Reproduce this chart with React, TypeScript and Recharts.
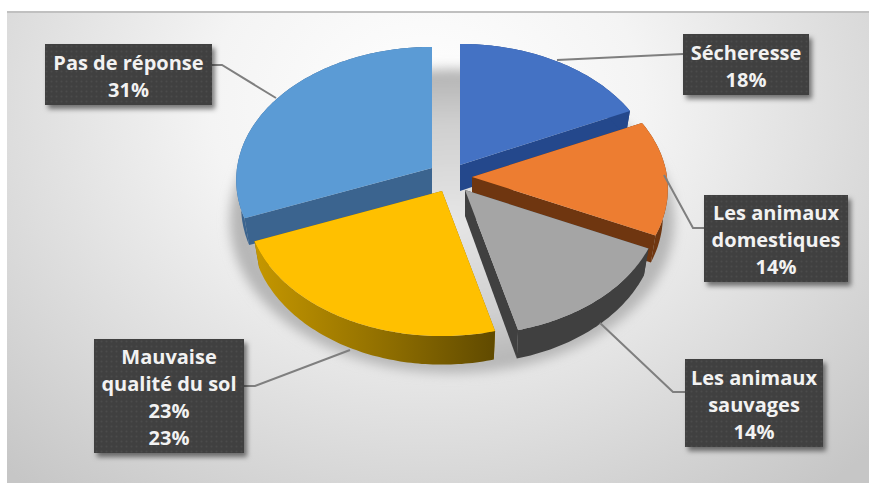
import React from 'react';
import { PieChart, Pie } from 'recharts';

// Drawn back to front, so the list starts at the rear left slice
const categories = ['Pas de réponse', 'Sécheresse', 'Les animaux domestiques', 'Les animaux sauvages', 'Mauvaise qualité du sol'];
const shares = [31, 18, 14, 14, 23];
const captions = [
  ['Pas de réponse'],
  ['Sécheresse'],
  ['Les animaux', 'domestiques'],
  ['Les animaux', 'sauvages'],
  ['Mauvaise', 'qualité du sol', '23%'],
];

const topColors = ['#5b9bd5', '#4472c4', '#ed7d31', '#a5a5a5', '#ffc000'];
const wallColors = ['#3b648f', '#24488c', '#6f3610', '#404040', 'url(#goldWall)'];

// How far each slice is pulled out of the pie
const explode = [[-19, -10], [9, -13], [21, -1], [14, 12], [-9, 13]];

// Callout boxes: x, y, width, height
const boxes = [
  [45, 44, 167, 61],
  [683, 34, 126, 61],
  [704, 195, 144, 87],
  [685, 359, 138, 88],
  [94, 339, 150, 114],
];
const leaders = [
  '212,65 222,65 276,98',
  '683,54 557,60',
  '704,228 693,228 664,175',
  '685,392 673,392 600,323',
  '244,386 255,386 350,350',
];

const WIDTH = 869;
const HEIGHT = 484;
const TILT = 132 / 195;
const PERSPECTIVE = 0.09;
const THICKNESS = 26;
const BASE_NARROWING = 0.975;

const tableData = categories.map((name, i) => ({ name, value: shares[i], fill: topColors[i] }));

// Angle in degrees (chart convention) onto the tilted disc, with a little foreshortening
const project = (cx: number, cy: number, r: number, deg: number, drop = 0) => {
  const rad = (deg * Math.PI) / 180;
  const u = Math.cos(rad);
  const v = -Math.sin(rad);
  const s = 1 / (1 - PERSPECTIVE * v);
  const spread = drop ? BASE_NARROWING : 1;
  return [cx + r * u * s * spread, cy + r * TILT * v * s + drop * s];
};

const toPath = (pts: number[][]) =>
  'M' + pts.map((p) => `${p[0].toFixed(1)},${p[1].toFixed(1)}`).join('L') + 'Z';

const Slice = (props: any) => {
  const { cx, cy, outerRadius, startAngle, endAngle, name } = props;
  const i = categories.indexOf(name);
  const ox = cx + explode[i][0];
  const oy = cy + explode[i][1];
  const steps = Math.max(2, Math.ceil(Math.abs(endAngle - startAngle)));
  const arc: number[] = [];
  for (let k = 0; k <= steps; k++) arc.push(startAngle + ((endAngle - startAngle) * k) / steps);

  const top = arc.map((a) => project(ox, oy, outerRadius, a));
  const bottom = arc.map((a) => project(ox, oy, outerRadius, a, THICKNESS));
  const apex = [ox, oy];
  const apexLow = [ox, oy + THICKNESS];
  const wall = wallColors[i];
  const cutWall = wall.startsWith('url') ? '#8a6a00' : wall;

  return (
    <g>
      <path d={toPath([apex, top[0], bottom[0], apexLow])} fill={cutWall} />
      <path d={toPath([apex, top[steps], bottom[steps], apexLow])} fill={cutWall} />
      <path d={toPath([...top, ...bottom.slice().reverse()])} fill={wall} />
      <path d={toPath([apex, ...top])} fill={topColors[i]} />
    </g>
  );
};

const Callout = (props: any) => {
  const i = props.index;
  const [x, y, w, h] = boxes[i];
  const lines = [...captions[i], `${shares[i]}%`];
  const lineHeight = 27;
  const firstLine = y + h / 2 - ((lines.length - 1) * lineHeight) / 2 + 1;
  return (
    <g>
      <rect x={x} y={y} width={w} height={h} fill="#404040" filter="url(#boxShadow)" />
      <rect x={x} y={y} width={w} height={h} fill="url(#boxDots)" />
      {lines.map((line, k) => (
        <text
          key={k}
          x={x + w / 2}
          y={firstLine + k * lineHeight}
          textAnchor="middle"
          dominantBaseline="central"
          fontFamily="'Open Sans', sans-serif"
          fontWeight={700}
          fontSize={20}
          fill="#f2f2f2"
        >
          {line}
        </text>
      ))}
    </g>
  );
};

const Leader = (props: any) => (
  <polyline points={leaders[props.index]} fill="none" stroke="#7f7f7f" strokeWidth={2} />
);

export default function App() {
  const start = 90 + (shares[0] / 100) * 360;
  return (
    <div
      style={{
        position: 'absolute',
        left: 0,
        top: 0,
        width: WIDTH,
        height: HEIGHT,
        background: '#fff',
        overflow: 'hidden',
      }}
    >
      <div
        style={{
          position: 'absolute',
          left: 7,
          top: 11,
          width: WIDTH - 7,
          height: 472,
          boxSizing: 'border-box',
          borderTop: '2px solid #c0c0c0',
          background: 'radial-gradient(ellipse 620px 500px at 420px 90px, #ffffff 0%, #f4f4f4 35%, #c6c6c6 100%)',
        }}
      />
      <div style={{ position: 'absolute', left: 0, top: 0 }}>
        <PieChart width={WIDTH} height={HEIGHT} margin={{ top: 0, right: 0, bottom: 0, left: 0 }}>
          <defs>
            <linearGradient id="goldWall" x1="0" y1="0" x2="1" y2="0">
              <stop offset="0%" stopColor="#c59700" />
              <stop offset="55%" stopColor="#8f6e00" />
              <stop offset="100%" stopColor="#604a00" />
            </linearGradient>
            <radialGradient id="pieShade" cx="50%" cy="50%" r="50%">
              <stop offset="0%" stopColor="#e6e6e6" />
              <stop offset="65%" stopColor="#cfcfcf" />
              <stop offset="100%" stopColor="#b2b2b2" />
            </radialGradient>
            <pattern id="boxDots" width="5" height="5" patternUnits="userSpaceOnUse">
              <circle cx="1.5" cy="1.5" r="1" fill="#4b4b4b" />
            </pattern>
            <filter id="boxShadow" x="-10%" y="-10%" width="125%" height="130%">
              <feDropShadow dx="3" dy="4" stdDeviation="2.5" floodColor="#000" floodOpacity="0.5" />
            </filter>
            <filter id="pieShadow" x="-10%" y="-10%" width="120%" height="120%">
              <feGaussianBlur stdDeviation="6" />
            </filter>
          </defs>
          <ellipse cx={452} cy={221} rx={222} ry={152} fill="url(#pieShade)" filter="url(#pieShadow)" />
          <Pie
            data={tableData}
            dataKey="value"
            nameKey="name"
            cx={451}
            cy={178}
            outerRadius={195}
            startAngle={start}
            endAngle={start - 360}
            stroke="none"
            shape={Slice}
            label={Callout}
            labelLine={Leader}
            isAnimationActive={false}
          />
        </PieChart>
      </div>
    </div>
  );
}
